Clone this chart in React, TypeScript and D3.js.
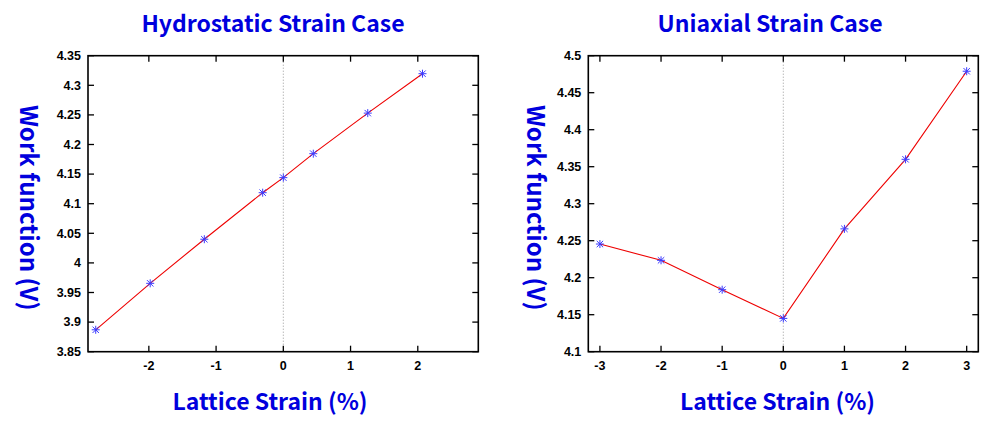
import React from "react";
import * as d3 from "d3";

const hydroStrain = [-2.79, -1.98, -1.175, -0.307, 0, 0.446, 1.256, 2.07];
const hydroWork = [3.887, 3.9655, 4.04, 4.1186, 4.144, 4.1845, 4.253, 4.3196];
const uniStrain = [-3, -2, -1, 0, 1, 2, 3];
const uniWork = [4.2455, 4.2235, 4.1838, 4.145, 4.266, 4.36, 4.479];
const hydroXTicks = [-2, -1, 0, 1, 2];
const hydroYTicks = [3.85, 3.9, 3.95, 4.0, 4.05, 4.1, 4.15, 4.2, 4.25, 4.3, 4.35];
const uniXTicks = [-3, -2, -1, 0, 1, 2, 3];
const uniYTicks = [4.1, 4.15, 4.2, 4.25, 4.3, 4.35, 4.4, 4.45, 4.5];

const BLUE = "#0000dd";
const LABEL_FONT = "'Noto Sans CJK KR', 'Noto Sans', sans-serif";
const TICK_FONT = "'Liberation Sans', Arial, sans-serif";

type PanelProps = {
  title: string;
  xs: number[];
  ys: number[];
  xDomain: [number, number];
  yDomain: [number, number];
  xTicks: number[];
  yTicks: number[];
  left: number;
  right: number;
  top: number;
  bottom: number;
  titleX: number;
  xLabelX: number;
  yLabelX: number;
};

const fmt = (v: number) => String(+v.toFixed(2));

function Panel(p: PanelProps) {
  const x = d3.scaleLinear().domain(p.xDomain).range([p.left, p.right]);
  const y = d3.scaleLinear().domain(p.yDomain).range([p.bottom, p.top]);
  const pts = p.xs.map((v, i) => [v, p.ys[i]] as [number, number]);
  const line = d3
    .line<[number, number]>()
    .x((d) => x(d[0]))
    .y((d) => y(d[1]));
  const tl = 6;
  const ms = 4;
  const yMid = (p.top + p.bottom) / 2;
  return (
    <g>
      <line
        x1={x(0)}
        x2={x(0)}
        y1={p.top}
        y2={p.bottom}
        stroke="#999"
        strokeWidth={1}
        strokeDasharray="1,2"
      />
      {p.xTicks.map((t) => (
        <g key={"xt" + t}>
          <line x1={x(t)} x2={x(t)} y1={p.bottom} y2={p.bottom - tl} stroke="#000" strokeWidth={1.3} />
          <line x1={x(t)} x2={x(t)} y1={p.top} y2={p.top + tl} stroke="#000" strokeWidth={1.3} />
          <text
            x={x(t)}
            y={p.bottom + 18}
            textAnchor="middle"
            fontFamily={TICK_FONT}
            fontWeight="bold"
            fontSize={12.5}
            fill="#000"
          >
            {fmt(t)}
          </text>
        </g>
      ))}
      {p.yTicks.map((t) => (
        <g key={"yt" + t}>
          <line x1={p.left} x2={p.left + tl} y1={y(t)} y2={y(t)} stroke="#000" strokeWidth={1.3} />
          <line x1={p.right} x2={p.right - tl} y1={y(t)} y2={y(t)} stroke="#000" strokeWidth={1.3} />
          <text
            x={p.left - 7}
            y={y(t) + 4.3}
            textAnchor="end"
            fontFamily={TICK_FONT}
            fontWeight="bold"
            fontSize={12.5}
            fill="#000"
          >
            {fmt(t)}
          </text>
        </g>
      ))}
      <rect
        x={p.left}
        y={p.top}
        width={p.right - p.left}
        height={p.bottom - p.top}
        fill="none"
        stroke="#000"
        strokeWidth={1.6}
      />
      <path d={line(pts) || ""} fill="none" stroke="#ee0000" strokeWidth={1.1} />
      {pts.map((d, i) => {
        const cx = x(d[0]);
        const cy = y(d[1]);
        return (
          <g key={"m" + i} stroke="#3a3aff" strokeWidth={1}>
            <line x1={cx - ms} x2={cx + ms} y1={cy} y2={cy} />
            <line x1={cx} x2={cx} y1={cy - ms} y2={cy + ms} />
            <line x1={cx - ms * 0.8} x2={cx + ms * 0.8} y1={cy - ms * 0.8} y2={cy + ms * 0.8} />
            <line x1={cx - ms * 0.8} x2={cx + ms * 0.8} y1={cy + ms * 0.8} y2={cy - ms * 0.8} />
          </g>
        );
      })}
      <text
        x={p.titleX}
        y={32}
        textAnchor="middle"
        fontFamily={LABEL_FONT}
        fontWeight="bold"
        fontSize={23}
        fill={BLUE}
      >
        {p.title}
      </text>
      <text
        x={p.xLabelX}
        y={410}
        textAnchor="middle"
        fontFamily={LABEL_FONT}
        fontWeight="bold"
        fontSize={23}
        fill={BLUE}
      >
        Lattice Strain (%)
      </text>
      <text
        transform={`translate(${p.yLabelX},${yMid + 4}) rotate(90)`}
        textAnchor="middle"
        fontFamily={LABEL_FONT}
        fontWeight="bold"
        fontSize={24}
        fill={BLUE}
      >
        Work function (V)
      </text>
    </g>
  );
}

export default function App() {
  return (
    <svg
      width={1002}
      height={429}
      style={{ position: "absolute", left: 0, top: 0, background: "#fff" }}
    >
      <rect width={1002} height={429} fill="#fff" />
      <Panel
        title="Hydrostatic Strain Case"
        xs={hydroStrain}
        ys={hydroWork}
        xDomain={[-2.905, 2.9]}
        yDomain={[3.85, 4.35]}
        xTicks={hydroXTicks}
        yTicks={hydroYTicks}
        left={88}
        right={478.3}
        top={55.7}
        bottom={351.7}
        titleX={273}
        xLabelX={270}
        yLabelX={20}
      />
      <Panel
        title="Uniaxial Strain Case"
        xs={uniStrain}
        ys={uniWork}
        xDomain={[-3.19, 3.19]}
        yDomain={[4.1, 4.5]}
        xTicks={uniXTicks}
        yTicks={uniYTicks}
        left={588.3}
        right={978.3}
        top={55.7}
        bottom={351.7}
        titleX={770}
        xLabelX={777.5}
        yLabelX={527}
      />
    </svg>
  );
}
